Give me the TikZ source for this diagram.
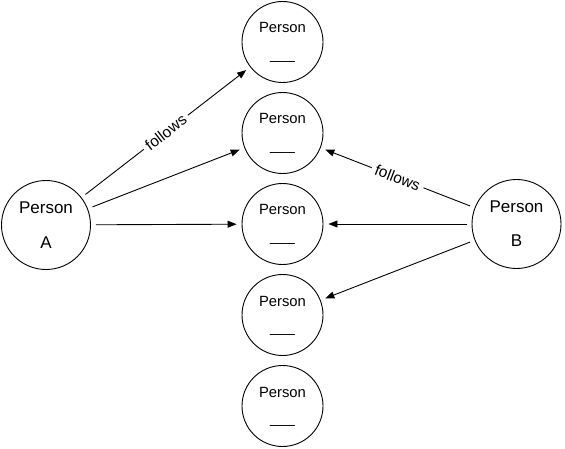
\documentclass[tikz,border=0pt]{standalone}
\usepackage{fontspec}
\setmainfont{Liberation Sans}
\usetikzlibrary{arrows.meta}
\begin{document}
\begin{tikzpicture}[x=1pt,y=-1pt,
  person/.style={circle,draw,line width=0.9pt,minimum size=81pt,inner sep=0pt},
  bigperson/.style={circle,draw,line width=0.9pt,minimum size=89pt,inner sep=0pt},
  txt/.style={anchor=base,inner sep=0pt,font=\fontsize{14.8}{17}\selectfont},
  bigtxt/.style={anchor=base,inner sep=0pt,font=\fontsize{17}{20}\selectfont},
  rel/.style={draw,line width=0.9pt,-{Triangle[length=9pt,width=7pt]},shorten <=5pt,shorten >=5pt},
  lab/.style={fill=white,sloped,inner sep=4pt,font=\fontsize{15.5}{18}\selectfont}
]
\useasboundingbox (0,0) rectangle (565,449);
% small persons
\node[person] (p1) at (282.5,42) {};
\node[person] (p2) at (282.5,133) {};
\node[person] (p3) at (282.5,224) {};
\node[person] (p4) at (282.5,315) {};
\node[person] (p5) at (282.5,406) {};
\node[txt] (p1a) at (282.5,33) {Person};
\node[txt] (p1b) at (282.5,59.5) {\_\_\_};
\node[txt] (p2a) at (282.5,124) {Person};
\node[txt] (p2b) at (282.5,150.5) {\_\_\_};
\node[txt] (p3a) at (282.5,215) {Person};
\node[txt] (p3b) at (282.5,241.5) {\_\_\_};
\node[txt] (p4a) at (282.5,306) {Person};
\node[txt] (p4b) at (282.5,332.5) {\_\_\_};
\node[txt] (p5a) at (282.5,397) {Person};
\node[txt] (p5b) at (282.5,423.5) {\_\_\_};
% big persons
\node[bigperson] (a) at (46,225) {};
\node[bigtxt] (aa) at (46,214) {Person};
\node[bigtxt] (ab) at (46,248) {A};
\node[bigperson] (b) at (516.5,224) {};
\node[bigtxt] (ba) at (516.5,213) {Person};
\node[bigtxt] (bb) at (516.5,247) {B};
% relations
\draw[rel] (a) -- node[lab] (l1) {follows} (p1);
\draw[rel] (a) -- (p2);
\draw[rel] (a) -- (p3);
\draw[rel] (b) -- node[lab] (l2) {follows} (p2);
\draw[rel] (b) -- (p3);
\draw[rel] (b) -- (p4);
\end{tikzpicture}
\end{document}
